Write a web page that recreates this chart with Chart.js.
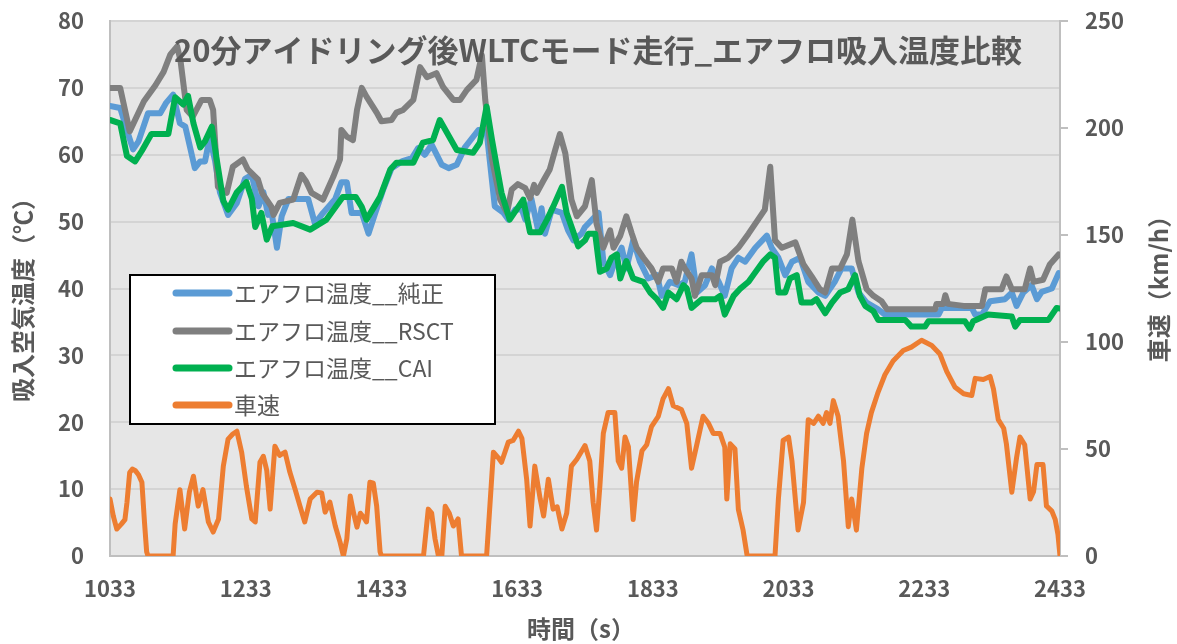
<!DOCTYPE html>
<html lang="ja">
<head>
<meta charset="utf-8">
<script src="https://cdn.jsdelivr.net/npm/chart.js@4.4.1/dist/chart.umd.min.js"></script>
<style>
  html, body { margin: 0; padding: 0; background: #fff; }
  #wrap { width: 1177px; height: 644px; position: relative; }
</style>
</head>
<body>
<div id="wrap"><canvas id="myChart"></canvas></div>
<script>
// text
const chartTitle = '20分アイドリング後WLTCモード走行_エアフロ吸入温度比較';
const xTitle = '時間（s）';
const yLeftTitle = '吸入空気温度（℃）';
const yRightTitle = '車速（km/h）';
const seriesNames = ['エアフロ温度__純正', 'エアフロ温度__RSCT', 'エアフロ温度__CAI', '車速'];

// tick labels
const xTickLabels = [1033, 1233, 1433, 1633, 1833, 2033, 2233, 2433];
const yLeftTicks = [0, 10, 20, 30, 40, 50, 60, 70, 80];
const yRightTicks = [0, 50, 100, 150, 200, 250];

// エアフロ温度__純正 (blue)
const blueT = [1033,1048,1060,1067,1075,1089,1107,1116,1126,1136,1144,1151,1158,1166,1173,1180,1188,1195,1207,1220,1232,1242,1252,1259,1266,1271,1279,1286,1296,1325,1335,1347,1365,1374,1382,1389,1404,1414,1424,1436,1448,1463,1478,1487,1497,1507,1522,1532,1544,1556,1576,1588,1595,1600,1613,1620,1630,1640,1645,1654,1664,1669,1674,1684,1699,1708,1716,1728,1733,1753,1760,1770,1777,1787,1794,1804,1814,1826,1839,1846,1858,1871,1880,1890,1898,1910,1920,1930,1939,1949,1959,1969,1984,2001,2008,2018,2028,2038,2050,2062,2077,2087,2101,2111,2126,2136,2148,2165,2175,2254,2259,2303,2308,2318,2330,2352,2362,2369,2379,2391,2399,2406,2421,2431,2433];
const blueV = [67.3,67,63,60.8,62,66.2,66.2,67.8,69,64.7,64.2,61.1,58,59,59,62.6,59,54.4,51,52.8,56.4,57,52.3,54.4,51,51.5,46.1,50.8,53.4,53.4,49.7,51.3,53.4,55.9,55.9,51.3,51.3,48.2,51.3,54.9,58,59,59.5,61,60,61.5,58.5,58,58.5,61.1,63.7,63.5,57,52.3,51.3,50.3,51.8,51.8,50.3,53.4,48.7,52,48.2,51.8,51.3,48.7,47.2,48.2,49.2,51.3,44.1,42,44,46.1,43,47.2,44,41.5,42,38.9,41,40.5,41,45.1,39.4,40.5,43,41,38.9,43,44.6,44,46.1,47.9,46.1,44.6,42,44,44.6,41,39.4,38.9,41,43,43,39.4,37.9,36.9,36.1,36.1,37.1,37.1,36.1,36.1,38.1,38.4,39.4,37.4,39.4,40.5,38.4,39.5,40,42.3,42];

// エアフロ温度__RSCT (gray)
const grayT = [1033,1048,1062,1083,1100,1112,1122,1132,1137,1146,1155,1168,1180,1185,1192,1205,1214,1229,1236,1251,1257,1271,1274,1283,1303,1315,1322,1330,1347,1362,1372,1374,1382,1391,1397,1404,1411,1426,1433,1448,1455,1465,1480,1490,1500,1514,1524,1539,1549,1559,1573,1581,1586,1596,1608,1618,1625,1634,1645,1652,1658,1662,1671,1681,1689,1696,1704,1713,1721,1733,1743,1750,1760,1770,1775,1785,1794,1802,1809,1819,1831,1841,1848,1861,1868,1875,1880,1890,1895,1905,1920,1925,1932,1944,1959,1974,1984,1998,2006,2013,2023,2043,2055,2067,2079,2087,2097,2109,2119,2127,2136,2148,2158,2170,2178,2249,2251,2261,2264,2268,2291,2318,2323,2347,2354,2362,2381,2389,2394,2408,2418,2431,2433];
const grayV = [70,70,63.5,68,70.4,72.4,75,76.2,74,66.7,65.7,68.2,68.2,66.7,55.2,54.3,58.2,59.3,57.8,56.3,54.3,52.2,51,52.8,53.3,57,56,54.3,53.3,56.7,59.3,63.7,62.7,62.2,66.7,70,68.7,66.3,65,65.2,66.3,66.7,68.2,73.1,71.6,72.2,70.1,68.2,68.2,69.7,71.2,74.9,68.2,59.3,53.3,51.3,54.8,55.6,55,53.5,55.5,54.3,56,57.8,60.7,63.1,60.2,53.3,50.8,52.3,56.2,49.7,46.1,48.7,46.1,47.9,50.8,48.2,46.1,44.6,43,41,43,43,41,44,43,41.5,38.9,42,42,40.5,44,44.6,46.1,48.2,49.7,51.8,58.2,47.2,46.1,46.9,43.6,41.8,39.9,39.4,43,43,45.1,50.3,44.1,39.9,38.9,38.1,36.9,36.9,37.7,37.7,39,37.7,37.4,37.4,39.9,39.9,41.8,39.9,39.9,43,41,41.3,43.6,45.1,45];

// エアフロ温度__CAI (green)
const greenT = [1033,1048,1058,1070,1080,1094,1119,1129,1141,1148,1156,1166,1173,1183,1190,1200,1207,1220,1234,1242,1247,1256,1264,1272,1303,1328,1352,1376,1395,1404,1411,1431,1446,1455,1480,1494,1509,1519,1544,1568,1578,1588,1596,1603,1610,1622,1642,1652,1667,1677,1686,1699,1706,1716,1723,1733,1738,1748,1755,1765,1772,1780,1785,1794,1804,1819,1829,1839,1848,1856,1868,1878,1883,1890,1905,1925,1932,1939,1952,1961,1974,1981,1996,2006,2013,2018,2028,2035,2045,2052,2067,2074,2087,2097,2109,2121,2131,2138,2146,2158,2165,2205,2214,2234,2239,2293,2300,2305,2327,2362,2367,2374,2416,2428,2433];
const greenV = [65.2,64.7,59.8,59,60.6,63.1,63.1,68.6,67.5,68.8,64.7,61.1,62,64.2,59.5,53.1,51.8,54.4,55.9,53.4,49.2,51.3,47.3,49.3,49.8,48.8,50.3,53.7,53.7,52.2,50.3,53.7,57.8,58.8,58.8,61.8,62.2,65.2,60.7,60.3,61.8,67.2,62.2,58.2,54.3,50.3,53.3,48.4,48.4,50.3,52.2,55.2,51.3,48.4,46.3,47.2,48.2,48.2,42.5,43,44.6,45.1,41.5,44.1,41.5,41,39.4,38.4,37.1,39.4,38.4,40.5,40,37.1,38.4,38.4,38.9,36.1,38.9,39.9,41,42,44.1,45.1,44.6,39.4,39.4,41.5,42,37.9,37.9,38.4,36.3,37.9,39.4,39.9,42,38.9,37.4,36.6,35.3,35.3,34.3,34.3,35.1,35.1,34,35.1,36.1,35.8,34.3,35.3,35.3,37.1,37];

// 車速 (orange, right axis)
const speedT = [1033,1038,1043,1050,1055,1058,1062,1066,1070,1075,1080,1084,1087,1089,1126,1129,1136,1143,1150,1156,1163,1170,1178,1185,1193,1200,1207,1214,1220,1227,1234,1242,1247,1254,1259,1264,1269,1276,1283,1291,1298,1306,1313,1320,1328,1338,1345,1350,1357,1365,1372,1377,1382,1387,1392,1397,1402,1407,1411,1416,1421,1426,1431,1433,1495,1502,1507,1512,1517,1522,1527,1533,1539,1546,1551,1588,1598,1605,1610,1620,1627,1635,1640,1647,1652,1659,1667,1672,1679,1686,1692,1699,1706,1713,1721,1733,1740,1745,1750,1755,1760,1767,1777,1782,1787,1792,1797,1804,1809,1817,1824,1831,1841,1848,1856,1863,1875,1883,1890,1898,1907,1915,1922,1932,1939,1942,1947,1954,1959,1966,1972,2013,2018,2025,2033,2038,2047,2055,2062,2070,2077,2084,2089,2094,2099,2106,2114,2121,2126,2133,2141,2148,2155,2165,2175,2187,2202,2214,2229,2244,2256,2266,2278,2291,2303,2308,2320,2330,2335,2342,2350,2354,2362,2369,2374,2381,2389,2394,2399,2408,2413,2421,2426,2430,2433];
const speedV = [26.6,18.5,12.6,15,17,25,39,40.6,40,38,34.5,15,2,0,0,15,31,12.6,30,37.3,23.3,31,15.9,11.2,17.3,42,54.6,57,58.3,48.5,32.6,17.3,15.9,43.8,46.6,40,21.9,51.3,47,48.5,39.2,31,23.3,15.9,26.6,29.8,29.5,20.5,25.2,14,6.5,0,8,28,20,13.5,20,18,15.9,34.5,34,23.3,2,0,0,21.9,20,8,0,0,23.3,20,14,17.3,0,0,48.5,46,43.8,53.2,54,58.3,55,35.9,14,42,26.6,18.7,35.9,21.9,23,12.6,20,42,45.2,51.6,44.4,25,12.1,33,57.3,67,67,44.4,41,55.6,51,17,34.7,49.2,52,60.5,65.3,73.4,78.2,70.2,68.5,62,41,52.4,65.3,62,57.3,57.3,50.8,26.6,52.4,50,21.8,12,0,0,26.6,54,55.6,44.4,12.1,25,63.7,62,65.3,62,67,62,72.6,65.3,44.4,13.7,26.6,12.1,41,57.3,67,76.6,84.7,91.1,96,97.6,100.8,98.4,94.4,86.3,79,75.8,75,83,82.5,83.9,78,63.7,59.7,52.4,29.8,46,55.6,52,26.6,30,42.7,42.7,23.4,21,17,10,0];

const fam = "'Noto Sans CJK JP', 'Noto Sans', sans-serif";
const txtColor = '#595959';
const axisColor = '#bfbfbf';

function pts(ts, vs) {
  return ts.map((t, i) => ({ x: t, y: vs[i] }));
}

const decorPlugin = {
  id: 'decor',
  beforeDraw(chart) {
    const ctx = chart.ctx, a = chart.chartArea;
    ctx.save();
    ctx.fillStyle = '#ffffff';
    ctx.fillRect(0, 0, chart.width, chart.height);
    ctx.fillStyle = '#e6e6e6';
    ctx.fillRect(a.left, a.top, a.right - a.left, a.bottom - a.top);
    ctx.restore();
  },
  afterDraw(chart) {
    const ctx = chart.ctx;
    ctx.save();
    // short outer tick marks on the right axis
    const r = chart.scales.y1;
    ctx.strokeStyle = axisColor;
    ctx.lineWidth = 2;
    yRightTicks.forEach(v => {
      const py = Math.round(r.getPixelForValue(v));
      ctx.beginPath();
      ctx.moveTo(r.left, py);
      ctx.lineTo(r.left + 8, py);
      ctx.stroke();
    });

    ctx.fillStyle = txtColor;
    ctx.textAlign = 'center';
    ctx.textBaseline = 'middle';
    ctx.font = 'bold 31px ' + fam;
    ctx.fillText(chartTitle, 598, 50);
    ctx.font = 'bold 24px ' + fam;
    ctx.fillText(xTitle, 581, 629);
    ctx.save();
    ctx.translate(23, 294);
    ctx.rotate(-Math.PI / 2);
    ctx.fillText(yLeftTitle, 0, 0);
    ctx.restore();
    ctx.save();
    ctx.translate(1159, 283);
    ctx.rotate(-Math.PI / 2);
    ctx.fillText(yRightTitle, 0, 0);
    ctx.restore();

    // legend box
    ctx.fillStyle = '#ffffff';
    ctx.fillRect(130, 275, 365, 149);
    ctx.strokeStyle = '#000000';
    ctx.lineWidth = 2;
    ctx.strokeRect(130, 275, 365, 149);
    const rows = [293, 331, 368, 405];
    ctx.font = '23px ' + fam;
    ctx.textAlign = 'left';
    seriesNames.forEach((name, i) => {
      ctx.strokeStyle = chart.data.datasets[i].borderColor;
      ctx.lineWidth = 7;
      ctx.lineCap = 'round';
      ctx.beginPath();
      ctx.moveTo(176, rows[i]);
      ctx.lineTo(229, rows[i]);
      ctx.stroke();
      ctx.fillStyle = txtColor;
      ctx.fillText(name, 234, rows[i]);
    });
    ctx.restore();
  }
};

const tickFont = { family: fam, size: 22, weight: 'bold' };

let ctx = document.getElementById('myChart').getContext('2d');
var myChart = new Chart(ctx, {
  type: 'line',
  data: {
    datasets: [
      { label: seriesNames[0], data: pts(blueT, blueV), borderColor: '#5b9bd5', borderWidth: 6, yAxisID: 'y', order: 4 },
      { label: seriesNames[1], data: pts(grayT, grayV), borderColor: '#7f7f7f', borderWidth: 6, yAxisID: 'y', order: 3 },
      { label: seriesNames[2], data: pts(greenT, greenV), borderColor: '#00b050', borderWidth: 6, yAxisID: 'y', order: 2 },
      { label: seriesNames[3], data: pts(speedT, speedV), borderColor: '#ed7d31', borderWidth: 5, yAxisID: 'y1', order: 1 }
    ]
  },
  options: {
    responsive: true,
    maintainAspectRatio: false,
    animation: false,
    layout: { padding: { top: 21, left: 0, right: 0, bottom: 0 } },
    elements: {
      point: { radius: 0 },
      line: { tension: 0, borderJoinStyle: 'round', borderCapStyle: 'round' }
    },
    plugins: { legend: { display: false }, tooltip: { enabled: false } },
    scales: {
      x: {
        type: 'linear', min: 1033, max: 2433,
        afterBuildTicks: s => { s.ticks = xTickLabels.map(v => ({ value: v })); },
        afterFit: s => { s.height = 88; },
        grid: { display: false },
        border: { color: axisColor, width: 2 },
        ticks: { color: txtColor, font: tickFont, padding: 11, maxRotation: 0, autoSkip: false, callback: v => String(v) }
      },
      y: {
        position: 'left', min: 0, max: 80,
        afterBuildTicks: s => { s.ticks = yLeftTicks.map(v => ({ value: v })); },
        afterFit: s => { s.width = 110; },
        grid: { color: '#d4d4d4', lineWidth: 2, drawTicks: true, tickLength: 26, tickColor: 'rgba(0,0,0,0)' },
        border: { color: axisColor, width: 2 },
        ticks: { color: txtColor, font: tickFont, padding: 0, callback: v => String(v) }
      },
      y1: {
        position: 'right', min: 0, max: 250,
        afterBuildTicks: s => { s.ticks = yRightTicks.map(v => ({ value: v })); },
        afterFit: s => { s.width = 117; },
        grid: { drawOnChartArea: false, drawTicks: true, tickLength: 25, tickColor: 'rgba(0,0,0,0)' },
        border: { color: axisColor, width: 2 },
        ticks: { color: txtColor, font: tickFont, padding: 0, callback: v => String(v) }
      }
    }
  },
  plugins: [decorPlugin]
});
</script>
</body>
</html>
